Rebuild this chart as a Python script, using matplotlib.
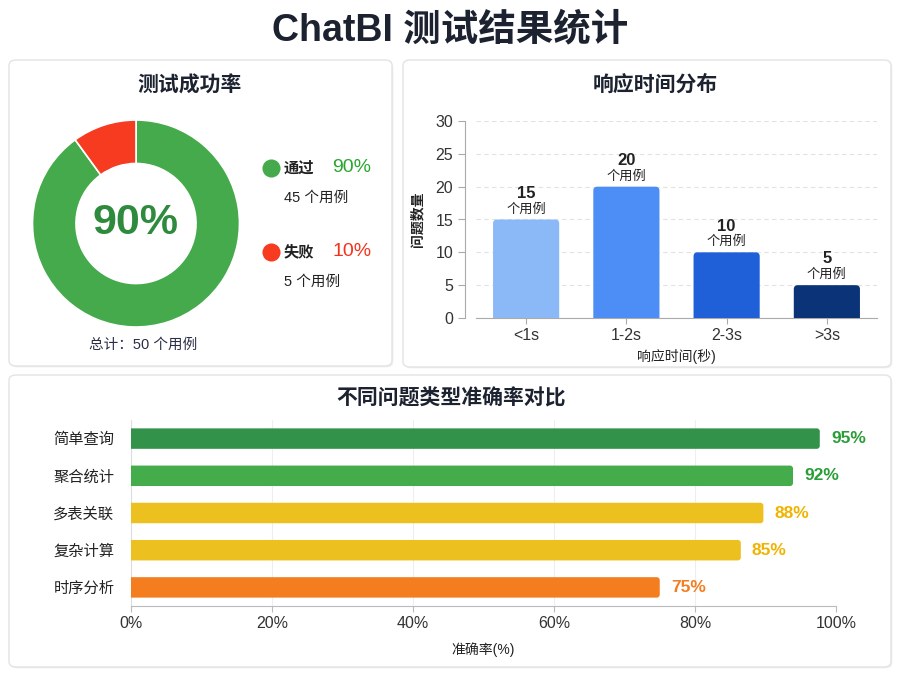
import matplotlib
matplotlib.use("Agg")
import matplotlib.pyplot as plt
from matplotlib.patches import FancyBboxPatch
import numpy as np

plt.rcParams['font.family'] = ['Liberation Sans', 'Noto Sans CJK SC', 'DejaVu Sans']

# ---------------- data ----------------
title_main = "ChatBI 测试结果统计"

pie_labels = ["通过", "失败"]
pie_counts = [45, 5]
pie_pcts = ["90%", "10%"]
pie_colors = ["#45aa4b", "#f63b20"]
pie_text_colors = ["#2aa52e", "#f5321c"]
total_cases = 50

resp_cats = ["<1s", "1-2s", "2-3s", ">3s"]
resp_counts = [15, 20, 10, 5]
resp_colors = ["#8bb9f8", "#4d8ef6", "#1f60d8", "#0b3478"]

acc_cats = ["简单查询", "聚合统计", "多表关联", "复杂计算", "时序分析"]
acc_labels = ["95%", "92%", "88%", "85%", "75%"]
acc_bar_len = [97.7, 93.9, 89.7, 86.5, 75.0]
acc_colors = ["#33924a", "#44ac4a", "#ecc01f", "#ecc01f", "#f47d20"]
acc_text_colors = ["#2a9d38", "#2a9d38", "#f0b400", "#f0b400", "#f47d20"]
acc_ticks = [0, 20, 40, 60, 80, 100]

W, H = 900, 675
fig = plt.figure(figsize=(9, 6.75), dpi=100)
fig.patch.set_facecolor("white")

def fx(x):
    return x / W

def fy(y):
    return 1 - y / H

def panel(x0, y0, x1, y1):
    sh = FancyBboxPatch((fx(x0) + 0.0015, fy(y1) - 0.002), fx(x1 - x0), (y1 - y0) / H,
                        boxstyle="round,pad=0,rounding_size=0.008",
                        transform=fig.transFigure, facecolor="#f0f0f0",
                        edgecolor="none", zorder=-3)
    fig.patches.append(sh)
    p = FancyBboxPatch((fx(x0), fy(y1)), fx(x1 - x0), (y1 - y0) / H,
                       boxstyle="round,pad=0,rounding_size=0.008",
                       transform=fig.transFigure, facecolor="white",
                       edgecolor="#e3e3e3", linewidth=1.0, zorder=-2)
    fig.patches.append(p)

panel(9, 60, 392, 366)
panel(403, 60, 891, 367)
panel(9, 375, 891, 667)

fig.text(0.5, fy(30), title_main, ha="center", va="center", fontsize=27,
         fontweight="bold", color="#1c2230")

# ---------------- donut ----------------
fig.text(fx(190), fy(85), "测试成功率", ha="center", va="center", fontsize=15,
         fontweight="bold", color="#1c2230")
cx, cy, R = 136, 223.5, 103.5
half = 112
axp = fig.add_axes([fx(cx - half), fy(cy + half), (2 * half) / W, (2 * half) / H])
axp.pie(pie_counts, colors=pie_colors, startangle=90, counterclock=False,
        radius=1, wedgeprops=dict(width=0.42, edgecolor="white", linewidth=1.2))
lim = half / R
axp.set_xlim(-lim, lim)
axp.set_ylim(-lim, lim)
axp.set_aspect("equal")
axp.axis("off")
axp.text(0, 0, pie_pcts[0], ha="center", va="center", fontsize=31,
         fontweight="bold", color="#2e8b3e")

axl = fig.add_axes([0, 0, 1, 1], facecolor="none")
axl.set_xlim(0, W)
axl.set_ylim(H, 0)
axl.axis("off")
leg_y = [168, 252]
for i in range(2):
    y = leg_y[i]
    axl.scatter([271], [y], s=170, color=pie_colors[i], zorder=3, linewidths=0)
    axl.text(284, y, pie_labels[i], ha="left", va="center", fontsize=11,
             fontweight="bold", color="#222222")
    axl.text(332, y, pie_pcts[i], ha="left", va="center", fontsize=14,
             color=pie_text_colors[i])
    axl.text(284, y + 30, f"{pie_counts[i]} 个用例", ha="left", va="center",
             fontsize=10.5, color="#222222")
axl.text(143, 345, f"总计：{total_cases} 个用例", ha="center", va="center",
         fontsize=10.5, color="#2a2f45")

# ---------------- response time bar chart ----------------
fig.text(fx(655), fy(85), "响应时间分布", ha="center", va="center", fontsize=15,
         fontweight="bold", color="#1c2230")
axb = fig.add_axes([fx(476), fy(318), (877 - 476) / W, (318 - 121) / H])
x = np.arange(len(resp_cats))
bars = axb.bar(x, resp_counts, width=0.66, color=resp_colors, zorder=3)
axb.set_xlim(-0.5, len(resp_cats) - 0.5)
axb.set_ylim(0, 30)
# rounded-top bars (bottom corners hidden below the axis)
px_x = (877 - 476) / 4.0
px_y = (318 - 121) / 30.0
for b in bars:
    bx, bw, bh = b.get_x(), b.get_width(), b.get_height()
    b.set_visible(False)
    r = 4.0 / px_x
    fp = FancyBboxPatch((bx, -1.0), bw, bh + 1.0,
                        boxstyle=f"round,pad=0,rounding_size={r}",
                        mutation_aspect=px_x / px_y,
                        facecolor=b.get_facecolor(), edgecolor="none", zorder=3)
    axb.add_patch(fp)
axb.set_yticks(range(0, 31, 5))
axb.set_xticks(x)
axb.set_xticklabels(resp_cats)
axb.tick_params(axis="both", labelsize=11.5, colors="#333333", length=4, color="#aaaaaa")
axb.tick_params(axis="y", length=5)
axb.grid(axis="y", linestyle=(0, (4, 3)), color="#e2e2e2", linewidth=0.8, zorder=0)
for s in ["top", "right"]:
    axb.spines[s].set_visible(False)
axb.spines["left"].set_position(("outward", 8))
axb.spines["left"].set_color("#aaaaaa")
axb.spines["bottom"].set_color("#aaaaaa")
axb.set_ylabel("问题数量", fontsize=10, fontweight="bold", color="#222222", labelpad=8)
axb.set_xlabel("响应时间(秒)", fontsize=10, color="#222222", labelpad=4)
for xi, v in zip(x, resp_counts):
    axb.annotate("个用例", (xi, v), xytext=(0, 3), textcoords="offset points",
                 ha="center", va="bottom", fontsize=9.5, color="#222222")
    axb.annotate(str(v), (xi, v), xytext=(0, 13.5), textcoords="offset points",
                 ha="center", va="bottom", fontsize=12, fontweight="bold", color="#222222")

# ---------------- accuracy horizontal bars ----------------
fig.text(fx(451), fy(398), "不同问题类型准确率对比", ha="center", va="center",
         fontsize=15, fontweight="bold", color="#1c2230")
axh = fig.add_axes([fx(131), fy(606), (836 - 131) / W, (606 - 420) / H])
yy = np.arange(len(acc_cats))
hbars = axh.barh(yy, acc_bar_len, height=0.55, color=acc_colors, zorder=3)
axh.set_ylim(len(acc_cats) - 0.5, -0.5)
axh.set_xlim(0, 100)
hx = (836 - 131) / 100.0
hy = (606 - 420) / 5.0
for b in hbars:
    by, bh, bw = b.get_y(), b.get_height(), b.get_width()
    b.set_visible(False)
    r = 3.0 / hx
    fp = FancyBboxPatch((-2.0, by), bw + 2.0, bh,
                        boxstyle=f"round,pad=0,rounding_size={r}",
                        mutation_aspect=hx / hy,
                        facecolor=b.get_facecolor(), edgecolor="none", zorder=3)
    axh.add_patch(fp)
axh.set_yticks(yy)
axh.set_yticklabels(acc_cats)
axh.set_xticks(acc_ticks)
axh.set_xticklabels([f"{t}%" for t in acc_ticks])
axh.tick_params(axis="y", length=0, labelsize=11, colors="#222222", pad=12)
axh.tick_params(axis="x", length=4, labelsize=11.5, colors="#333333", color="#bbbbbb")
axh.grid(axis="x", color="#eeeeee", linewidth=0.8, zorder=0)
for s in ["top", "right"]:
    axh.spines[s].set_visible(False)
axh.spines["left"].set_color("#dddddd")
axh.spines["bottom"].set_color("#bbbbbb")
axh.set_xlabel("准确率(%)", fontsize=10, color="#222222", labelpad=8)
for yi, v, lab, c in zip(yy, acc_bar_len, acc_labels, acc_text_colors):
    axh.annotate(lab, (v, yi), xytext=(8, 0), textcoords="offset points",
                 ha="left", va="center", fontsize=12.5, fontweight="bold", color=c)

fig.savefig("out.png", dpi=100)
